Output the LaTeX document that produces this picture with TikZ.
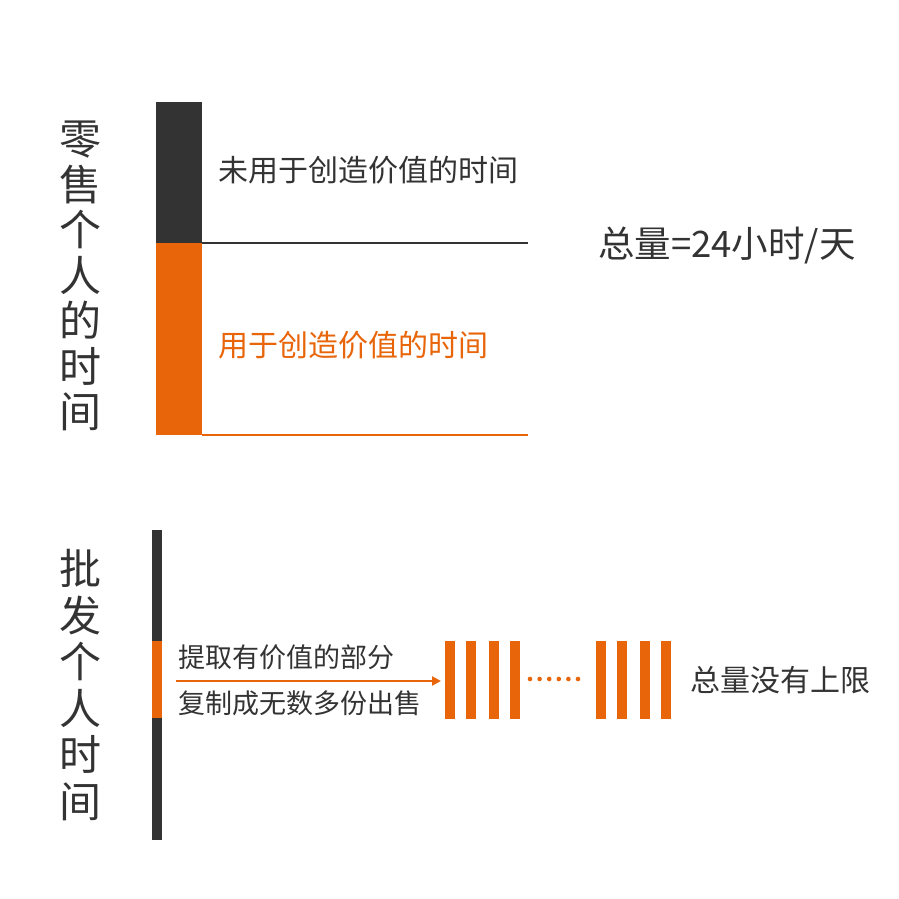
\documentclass[tikz,border=0pt]{standalone}
\usepackage{fontspec}
\setmainfont{Noto Sans CJK SC}
\usetikzlibrary{positioning,arrows.meta}
\definecolor{ink}{HTML}{333333}
\definecolor{org}{HTML}{E8650A}
\tikzset{
  bar/.style   ={inner sep=0pt, outer sep=0pt, anchor=north west},
  vtxt/.style  ={align=center, text=ink, inner sep=0pt, font=\fontsize{42}{45.5}\selectfont},
  lbl/.style   ={anchor=west, inner sep=0pt, font=\fontsize{30}{36}\selectfont},
  small/.style ={anchor=west, inner sep=0pt, text=ink, font=\fontsize{27}{32}\selectfont},
  slat/.style  ={fill=org, inner sep=0pt, outer sep=0pt, anchor=north west,
                 minimum width=10pt, minimum height=78pt},
  rule/.style  ={line width=2pt},
  fl/.style    ={-{Triangle[length=9pt,width=9pt]}, org, line width=2.2pt}
}
\begin{document}
\begin{tikzpicture}[x=1pt,y=-1pt]
  \useasboundingbox[fill=white] (0,0) rectangle (899,899);

  % retail: a fixed 24h day
  \node[vtxt](retail) at (80,276){零\\售\\个\\人\\的\\时\\间};
  \node[bar, fill=ink, minimum width=46pt, minimum height=141pt](idle) at (156,102){};
  \node[bar, fill=org, minimum width=46pt, minimum height=192pt](work) at (156,243){};
  \draw[rule, ink](idle.south east) -- ++(326,0) coordinate(idleend);
  \draw[rule, org](work.south east) -- ++(326,0) coordinate(workend);
  \node[lbl, text=ink](unused) at (218,170){未用于创造价值的时间};
  \node[lbl, text=org](used) at (218,345){用于创造价值的时间};
  \node[lbl, text=ink, font=\fontsize{36.5}{42}\selectfont](total) at (598,245){总量=24小时/天};

  % wholesale: copies without limit
  \node[vtxt, font=\fontsize{42}{46.5}\selectfont](wholesale) at (80,685){批\\发\\个\\人\\时\\间};
  \node[bar, fill=ink, minimum width=10pt, minimum height=310pt](axis) at (152,530){};
  \node[bar, fill=org, minimum width=10pt, minimum height=77pt](part) at (152,641){};
  \coordinate(start) at (176,681);
  \node[small](extract) at (178,657){提取有价值的部分};
  \node[small](copy) at (178,703){复制成无数多份出售};

  \foreach \x [count=\i] in {445,466,489,510,596,617,640,661}
    \node[slat](s\i) at (\x,641){};
  \foreach \k in {0,...,5}
    \fill[org] (530+\k*9.6,679) circle (2.3);
  \node[lbl, text=ink](nolimit) at (690,680){总量没有上限};

  \draw[fl, shorten >=4pt](start) -- (start -| s1.west);
\end{tikzpicture}
\end{document}
